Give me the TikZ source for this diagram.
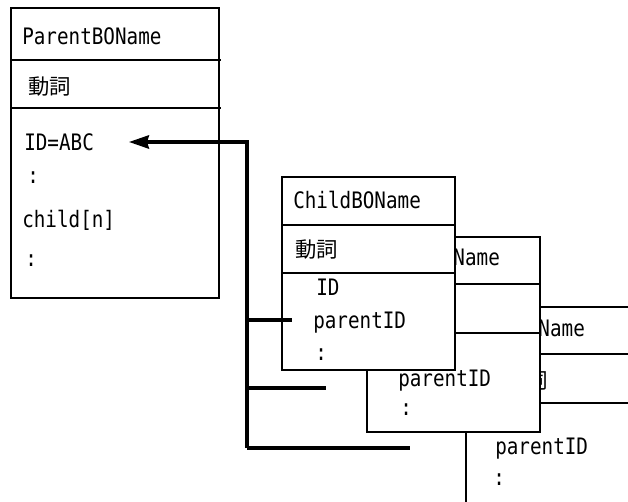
\documentclass[tikz,border=0pt]{standalone}
\usepackage{fontspec}
\newfontfamily\lat[FakeStretch=0.85]{DejaVu Sans Mono}
\newfontfamily\jp{Noto Sans CJK JP}
\usetikzlibrary{arrows.meta}
\begin{document}
\begin{tikzpicture}[x=0.75pt,y=-0.75pt,
  box/.style={draw, fill=white, line width=1.1pt},
  sep/.style={line width=1.1pt},
  txt/.style={anchor=west, inner sep=0pt, text height=12.5pt, text depth=0pt, font=\lat\fontsize{17}{17}\selectfont},
  jtxt/.style={txt, font=\jp\fontsize{16}{16}\selectfont},
  conn/.style={line width=2.4pt}]
\useasboundingbox (0,0) rectangle (628,502);
\clip (0,0) rectangle (628,502);
\fill[white] (0,0) rectangle (628,502);

% ---- third child box (back) ----
\filldraw[box] (466,307) rectangle (650,530);
\draw[sep] (466,354) -- (650,354);
\draw[sep] (466,403) -- (650,403);
\node[txt] (c3title) at (457,328) {ChildBOName};
\node[jtxt] (c3verb) at (505,380) {動詞};
\node[txt] (c3pid) at (495,446) {parentID};
\node[txt] (c3dots) at (493,477) {:};

% ---- second child box ----
\filldraw[box] (367,237) rectangle (540,432);
\draw[sep] (367,284) -- (540,284);
\draw[sep] (367,333) -- (540,333);
\node[txt] (c2title) at (372,257) {ChildBOName};
\node[txt] (c2pid) at (398,378) {parentID};
\node[txt] (c2dots) at (400,407) {:};

% ---- first child box (front) ----
\filldraw[box] (282,177) rectangle (455,370);
\draw[sep] (282,225) -- (455,225);
\draw[sep] (282,273) -- (455,273);
\node[txt] (c1title) at (293,200) {ChildBOName};
\node[jtxt] (c1verb) at (295,249) {動詞};
\node[txt] (c1id) at (316,287) {ID};
\node[txt] (c1pid) at (313,320) {parentID};
\node[txt] (c1dots) at (315,352) {:};

% ---- parent box ----
\filldraw[box] (11,8) rectangle (219,298);
\draw[sep] (11,60) -- (221,60);
\draw[sep] (11,108) -- (221,108);
\node[txt] (ptitle) at (22,36) {ParentBOName};
\node[jtxt] (pverb) at (28,86) {動詞};
\node[txt] (pid) at (24,142) {ID=ABC};
\node[txt] (pdots1) at (27,175) {:};
\node[txt] (pchild) at (22,219) {child[n]};
\node[txt] (pdots2) at (25,258) {:};

% ---- connectors ----
\coordinate (vbot) at (247,448);
\coordinate (corner) at (247,142);
\coordinate (tip) at (129,142);
\coordinate (b1) at (247,320);
\coordinate (e1) at (292,320);
\coordinate (b2) at (247,388);
\coordinate (e2) at (326,388);
\coordinate (e3) at (410,448);
\draw[conn, -{Stealth[length=15pt,width=10pt,inset=1.5pt]}] (vbot) -- (corner) -- (tip);
\draw[conn] (b1) -- (e1);
\draw[conn] (b2) -- (e2);
\draw[conn] (vbot) -- (e3);
\end{tikzpicture}
\end{document}
